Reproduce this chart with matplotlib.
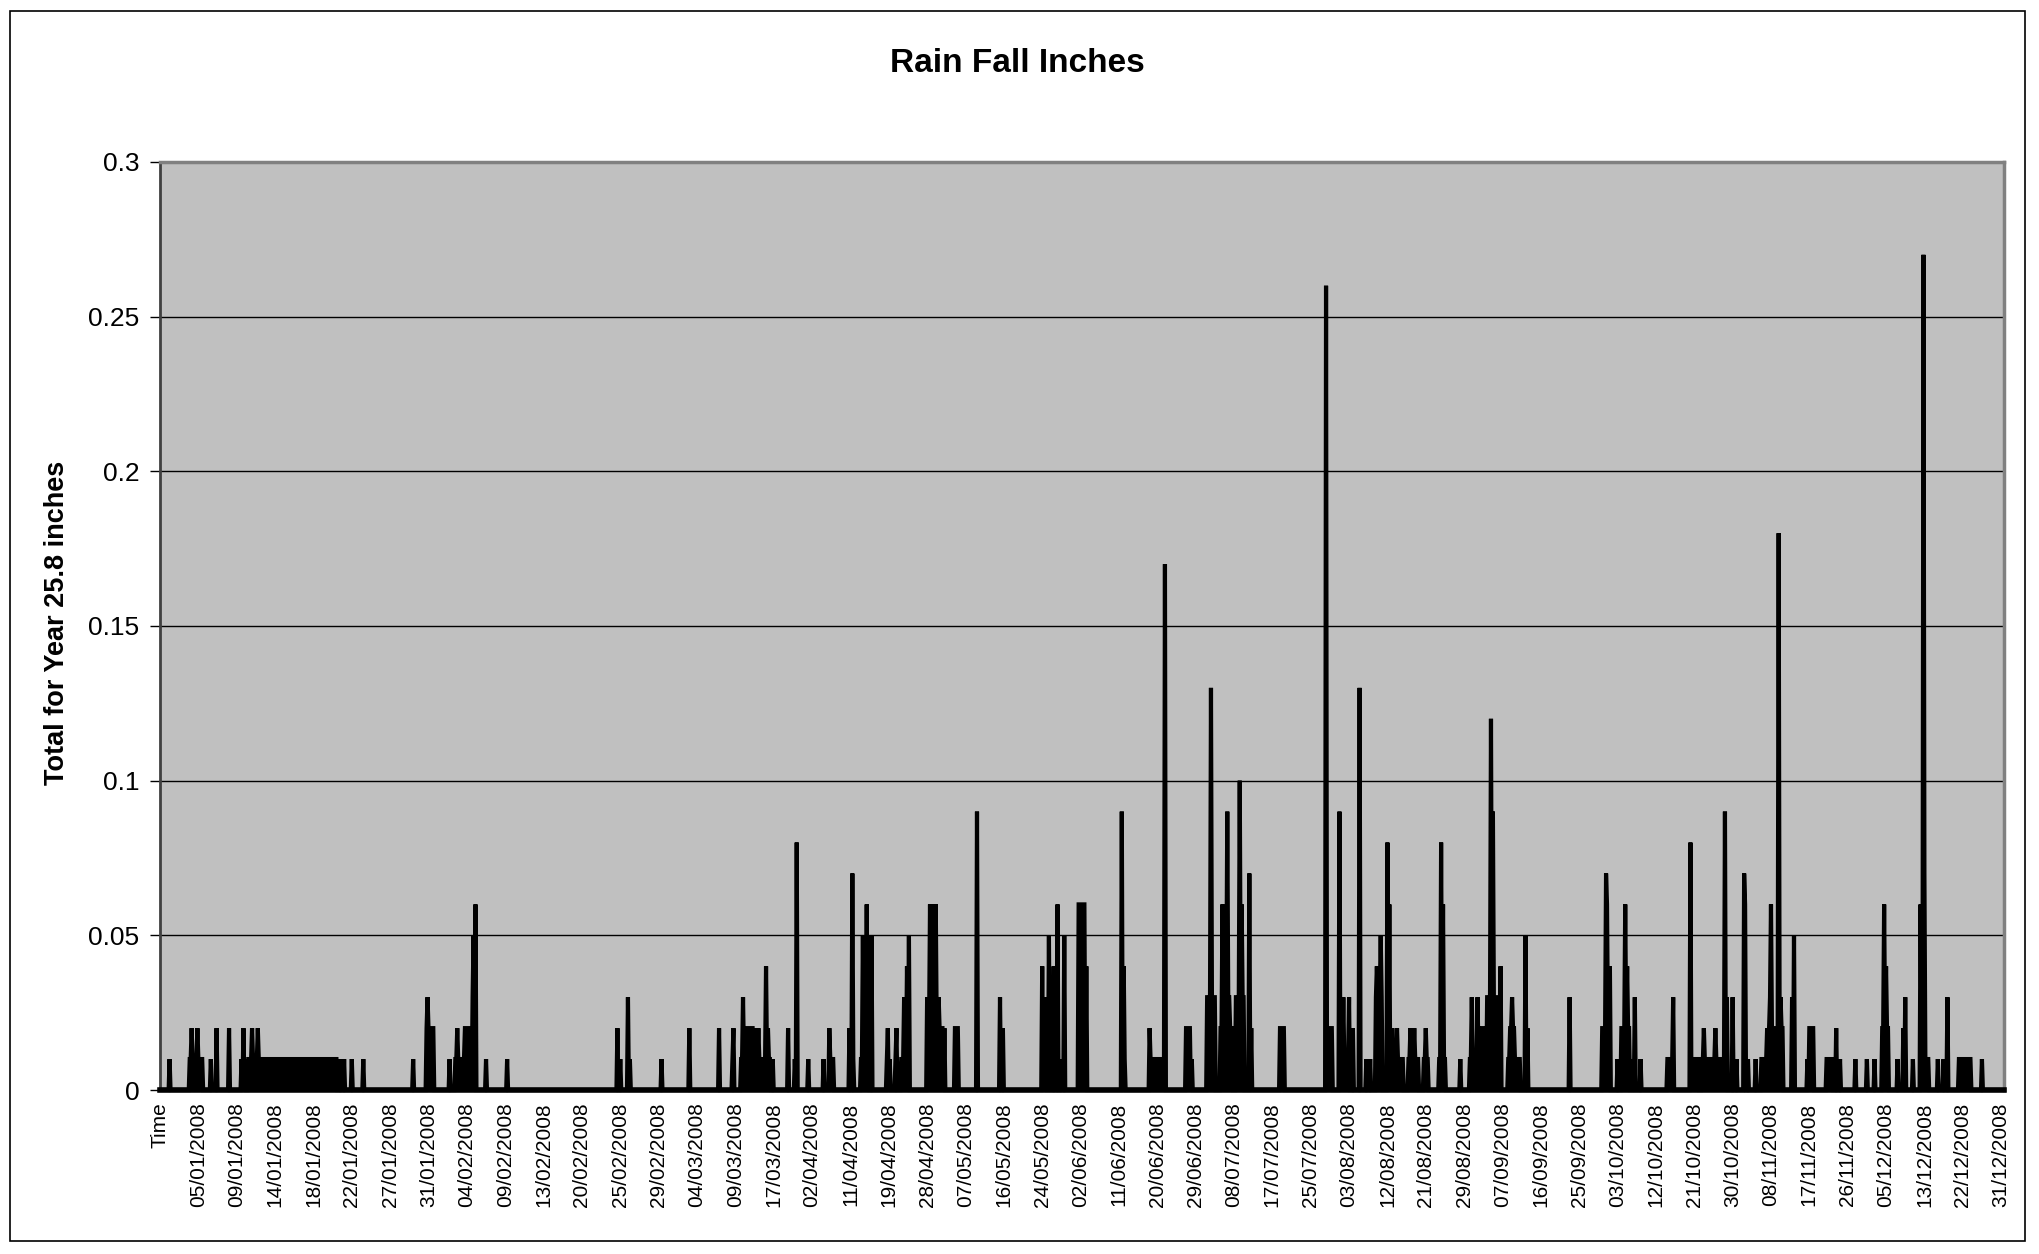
import numpy as np
import matplotlib
matplotlib.use('Agg')
import matplotlib.pyplot as plt
from matplotlib.patches import Rectangle

plt.rcParams['font.family'] = ['Liberation Sans', 'DejaVu Sans']

# category labels (one every N readings)
date_labels = ['Time', '05/01/2008', '09/01/2008', '14/01/2008', '18/01/2008', '22/01/2008',
               '27/01/2008', '31/01/2008', '04/02/2008', '09/02/2008', '13/02/2008', '20/02/2008',
               '25/02/2008', '29/02/2008', '04/03/2008', '09/03/2008', '17/03/2008', '02/04/2008',
               '11/04/2008', '19/04/2008', '28/04/2008', '07/05/2008', '16/05/2008', '24/05/2008',
               '02/06/2008', '11/06/2008', '20/06/2008', '29/06/2008', '08/07/2008', '17/07/2008',
               '25/07/2008', '03/08/2008', '12/08/2008', '21/08/2008', '29/08/2008', '07/09/2008',
               '16/09/2008', '25/09/2008', '03/10/2008', '12/10/2008', '21/10/2008', '30/10/2008',
               '08/11/2008', '17/11/2008', '26/11/2008', '05/12/2008', '13/12/2008', '22/12/2008',
               '31/12/2008']

# readings per label interval, total readings
per_label = 40
n_readings = 1924

# single readings: position (in label intervals) and inches
spike_pos = [0.26, 0.83, 0.97, 1.33, 1.48, 1.8, 2.12, 2.17, 2.22, 2.4, 2.56,
             4.7, 4.8, 5.0, 5.3, 6.6, 6.97, 7.55, 7.75, 8.15, 8.18, 8.22, 8.5, 9.05,
             11.93, 12.0, 12.2, 12.25, 13.08, 13.8, 14.57, 14.93, 14.96,
             15.2, 15.5, 15.6, 15.8, 15.85, 15.98, 16.37, 16.55, 16.6, 16.9,
             17.3, 17.45, 17.98, 18.04, 18.08, 18.33, 18.43, 18.47, 18.54,
             18.95, 18.98, 19.02, 19.17, 19.2, 19.4, 19.47, 19.52,
             20.0, 20.07, 20.15, 20.22, 20.3, 20.37, 20.45, 21.3, 21.9, 21.97,
             23.0, 23.05, 23.1, 23.18, 23.22, 23.3, 23.4, 23.47, 23.57, 24.15,
             25.08, 25.12, 25.15, 25.8, 26.2, 26.9, 27.4, 27.7, 27.83, 28.15, 28.2,
             28.4, 28.45, 30.4, 30.75, 30.85, 31.0, 31.1, 31.28, 31.45, 31.55,
             31.72, 31.82, 32.0, 32.05, 32.12, 32.25, 32.6, 32.7, 33.0, 33.4, 33.45,
             33.9, 34.2, 34.35, 34.7, 34.75, 34.96, 35.25, 35.6, 35.65, 36.76,
             37.7, 37.72, 37.8, 38.0, 38.2, 38.25, 38.4, 38.46, 38.6, 39.45,
             39.9, 40.26, 40.55, 40.8, 40.85, 41.0, 41.1, 41.3, 41.33, 41.4, 41.6,
             41.9, 41.97, 42.0, 42.2, 42.25, 42.55, 42.6, 42.95, 43.7, 43.8,
             44.2, 44.5, 44.7, 44.95, 45.0, 45.3, 45.45, 45.5, 45.7,
             45.9, 45.98, 46.0, 46.35, 46.5, 46.6, 47.5]
spike_val = [0.01, 0.02, 0.02, 0.01, 0.02, 0.02, 0.01, 0.02, 0.01, 0.02, 0.02,
             0.01, 0.01, 0.01, 0.01, 0.01, 0.03, 0.01, 0.02, 0.03, 0.05, 0.06, 0.01, 0.01,
             0.02, 0.01, 0.03, 0.01, 0.01, 0.02, 0.02, 0.01, 0.02,
             0.03, 0.02, 0.02, 0.04, 0.02, 0.01, 0.02, 0.01, 0.08, 0.01,
             0.01, 0.02, 0.02, 0.07, 0.01, 0.05, 0.06, 0.03, 0.05,
             0.01, 0.02, 0.01, 0.01, 0.02, 0.03, 0.04, 0.05,
             0.03, 0.06, 0.06, 0.06, 0.03, 0.01, 0.02, 0.09, 0.03, 0.02,
             0.04, 0.01, 0.03, 0.05, 0.02, 0.04, 0.06, 0.01, 0.05, 0.04,
             0.09, 0.04, 0.01, 0.02, 0.17, 0.01, 0.13, 0.06, 0.09, 0.10, 0.06,
             0.07, 0.02, 0.26, 0.09, 0.03, 0.03, 0.02, 0.13, 0.01, 0.01,
             0.04, 0.05, 0.08, 0.06, 0.02, 0.02, 0.02, 0.02, 0.02, 0.08, 0.06,
             0.01, 0.03, 0.03, 0.12, 0.09, 0.04, 0.03, 0.05, 0.02, 0.03,
             0.07, 0.06, 0.04, 0.01, 0.06, 0.04, 0.01, 0.03, 0.01, 0.03,
             0.08, 0.02, 0.02, 0.09, 0.03, 0.03, 0.01, 0.07, 0.06, 0.01, 0.01,
             0.02, 0.03, 0.06, 0.18, 0.03, 0.03, 0.05, 0.01, 0.02, 0.01,
             0.01, 0.01, 0.01, 0.06, 0.04, 0.01, 0.02, 0.03, 0.01,
             0.06, 0.27, 0.07, 0.01, 0.01, 0.03, 0.01]

# runs of dense readings at the same level
run_start = [0.78, 2.3, 6.95, 7.7, 7.96, 15.15, 15.3, 17.45, 18.28, 19.33, 20.0, 20.72,
             23.95, 25.8, 26.75, 27.3, 27.65, 27.78, 28.05, 29.2, 30.45, 30.8, 31.7,
             32.1, 32.55, 32.95, 33.35, 34.15, 34.4, 34.6, 35.15, 35.2, 37.6, 38.1,
             39.3, 39.95, 40.2, 40.3, 41.75, 41.95, 43.0, 43.45, 44.9, 45.9, 46.9]
run_end = [1.1, 4.6, 7.12, 8.1, 8.1, 15.9, 15.45, 17.55, 18.45, 19.52, 20.4, 20.8,
           24.1, 26.2, 26.85, 27.5, 27.95, 27.88, 28.25, 29.3, 30.55, 31.0, 31.85,
           32.4, 32.8, 33.05, 33.5, 34.55, 34.55, 34.9, 35.45, 35.3, 37.8, 38.3,
           39.45, 40.1, 40.8, 40.4, 42.0, 42.3, 43.1, 43.6, 45.05, 46.1, 47.2]
run_val = [0.01, 0.01, 0.02, 0.01, 0.02, 0.01, 0.02, 0.01, 0.01, 0.01, 0.02, 0.02,
           0.06, 0.01, 0.02, 0.03, 0.02, 0.03, 0.03, 0.02, 0.02, 0.01, 0.03,
           0.01, 0.01, 0.01, 0.01, 0.01, 0.02, 0.03, 0.01, 0.02, 0.02, 0.02,
           0.01, 0.01, 0.01, 0.01, 0.01, 0.02, 0.02, 0.01, 0.02, 0.01, 0.01]

# build the reading series
rain = np.zeros(n_readings)
for s, e, v in zip(run_start, run_end, run_val):
    i0, i1 = int(round(s * per_label)), int(round(e * per_label))
    rain[i0:i1 + 1] = np.maximum(rain[i0:i1 + 1], v)
for p, v in zip(spike_pos, spike_val):
    i = int(round(p * per_label))
    rain[i] = max(rain[i], v)
x = np.arange(n_readings) / per_label

W, H = 2039, 1254
fig = plt.figure(figsize=(W / 100, H / 100), dpi=100)
ax = fig.add_axes([160 / W, 1 - 1090 / H, (2004 - 160) / W, (1090 - 162) / H])
ax.set_facecolor('#C0C0C0')

# dense readings render as a solid black trace
ax.fill_between(x, 0, rain, color='black', lw=0, zorder=3)
ax.plot(x, rain, color='black', lw=3, solid_joinstyle='miter', clip_on=False, zorder=3)

ax.set_xlim(0, (n_readings - 1) / per_label)
ax.set_ylim(0, 0.3)
ax.set_yticks([0, 0.05, 0.1, 0.15, 0.2, 0.25, 0.3])
ax.set_yticklabels(['0', '0.05', '0.1', '0.15', '0.2', '0.25', '0.3'], fontsize=19)
ax.set_xticks(np.arange(len(date_labels)))
ax.set_xticklabels(date_labels, rotation=90, fontsize=15, va='top')
ax.tick_params(axis='x', length=0, pad=9)
ax.tick_params(axis='y', direction='out', length=7, width=1, pad=8)
ax.yaxis.grid(True, color='black', lw=1)
ax.set_axisbelow(True)

for side in ['top', 'right']:
    ax.spines[side].set_color('#808080')
    ax.spines[side].set_linewidth(2.5)
ax.spines['left'].set_color('#404040')
ax.spines['left'].set_linewidth(2)
ax.spines['bottom'].set_color('black')
ax.spines['bottom'].set_linewidth(4)

fig.text(1017 / W, 1 - 64 / H, 'Rain Fall Inches', fontsize=24, fontweight='bold',
         ha='center', va='center')
fig.text(57 / W, 1 - 623 / H, 'Total for Year 25.8 inches', fontsize=19.5, fontweight='bold',
         rotation=90, ha='center', va='center')

fig.patches.append(Rectangle((10 / W, 1 - 1241 / H), (2025 - 10) / W, (1241 - 11) / H,
                             transform=fig.transFigure, fill=False, ec='black', lw=1.2))

fig.savefig('out.png', dpi=100)
